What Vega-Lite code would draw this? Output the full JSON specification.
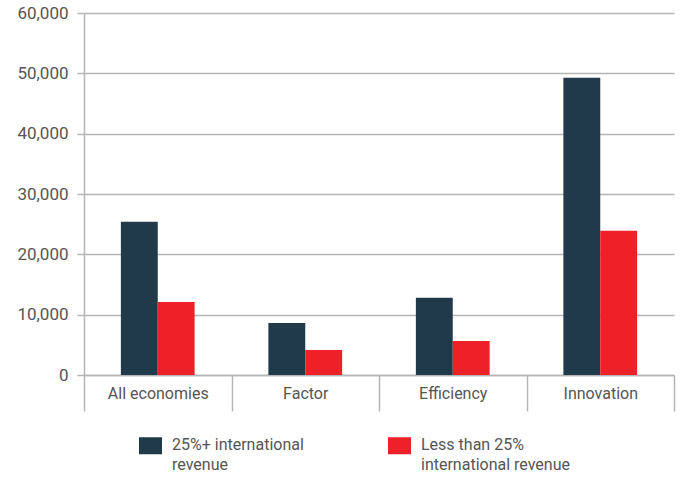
{
  "$schema": "https://vega.github.io/schema/vega-lite/v6.json",
  "width": 590,
  "height": 362,
  "autosize": {"type": "none"},
  "padding": {"left": 84, "top": 13, "right": 8, "bottom": 102},
  "background": "white",
  "data": {
    "values": [
      {"group": "All economies", "series": "25%+ international revenue", "value": 25400},
      {"group": "All economies", "series": "Less than 25% international revenue", "value": 12100},
      {"group": "Factor", "series": "25%+ international revenue", "value": 8600},
      {"group": "Factor", "series": "Less than 25% international revenue", "value": 4150},
      {"group": "Efficiency", "series": "25%+ international revenue", "value": 12800},
      {"group": "Efficiency", "series": "Less than 25% international revenue", "value": 5650},
      {"group": "Innovation", "series": "25%+ international revenue", "value": 49250},
      {"group": "Innovation", "series": "Less than 25% international revenue", "value": 23900}
    ]
  },
  "mark": {"type": "bar"},
  "encoding": {
    "x": {
      "field": "group",
      "type": "nominal",
      "sort": ["All economies", "Factor", "Efficiency", "Innovation"],
      "scale": {"paddingInner": 0, "paddingOuter": 0},
      "axis": {
        "title": null,
        "labelAngle": 0,
        "tickBand": "extent",
        "tickSize": 36,
        "tickColor": "#b5b5b8",
        "tickWidth": 1.5,
        "domainColor": "#b5b5b8",
        "domainWidth": 1.5,
        "labelPadding": -26,
        "labelFont": "Roboto",
        "labelFontSize": 16,
        "labelColor": "#555555",
        "grid": false
      }
    },
    "xOffset": {
      "field": "series",
      "type": "nominal",
      "scale": {"paddingInner": 0, "paddingOuter": 1.2}
    },
    "y": {
      "field": "value",
      "type": "quantitative",
      "scale": {"domain": [0, 60000], "nice": false},
      "axis": {
        "title": null,
        "values": [0, 10000, 20000, 30000, 40000, 50000, 60000],
        "format": ",.0f",
        "grid": true,
        "gridColor": "#b5b5b8",
        "gridWidth": 1.5,
        "tickColor": "#b5b5b8",
        "tickWidth": 1.5,
        "tickSize": 7,
        "domainColor": "#b5b5b8",
        "domainWidth": 1.5,
        "labelPadding": 9,
        "labelFont": "Roboto",
        "labelFontSize": 17,
        "labelColor": "#555555"
      }
    },
    "color": {
      "field": "series",
      "type": "nominal",
      "scale": {
        "domain": ["25%+ international revenue", "Less than 25% international revenue"],
        "range": ["#213a4a", "#ee2129"]
      },
      "legend": {
        "title": null,
        "orient": "none",
        "legendX": 55,
        "legendY": 421,
        "direction": "horizontal",
        "columns": 2,
        "columnPadding": 84,
        "symbolType": "M-1,-0.74L1,-0.74L1,0.74L-1,0.74Z",
        "symbolSize": 529,
        "symbolStrokeWidth": 0,
        "symbolOpacity": 1,
        "labelOffset": 10,
        "labelFont": "Roboto",
        "labelFontSize": 16,
        "labelColor": "#555555",
        "labelBaseline": "top",
        "labelLimit": 300,
        "labelExpr": "datum.label == '25%+ international revenue' ? ['25%+ international', 'revenue'] : ['Less than 25%', 'international revenue']",
        "encode": {
          "labels": {"update": {"lineHeight": {"value": 20}, "dy": {"value": -9}}}
        }
      }
    }
  },
  "config": {
    "view": {"stroke": null},
    "axis": {"zindex": 0}
  }
}
